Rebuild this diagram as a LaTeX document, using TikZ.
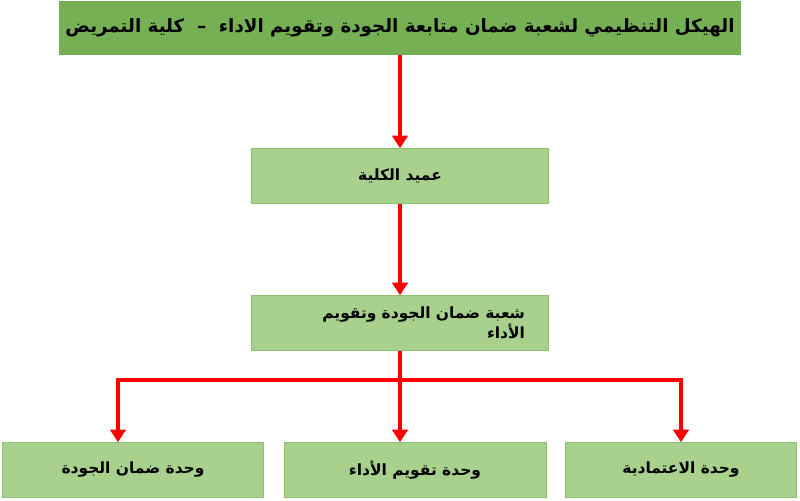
\documentclass[tikz,border=0pt]{standalone}
\usepackage{fontspec}
\newfontfamily\arabicfont[Script=Arabic]{DejaVu Sans}
\TeXXeTstate=1
\usetikzlibrary{arrows.meta}
\definecolor{topgreen}{HTML}{76B054}
\definecolor{boxgreen}{HTML}{A9D18E}
\definecolor{boxline}{HTML}{8FBF70}
\tikzset{
  unitbox/.style={draw=boxline,fill=boxgreen,minimum height=55*0.025cm,inner sep=4pt,font=\arabicfont\bfseries\fontsize{11}{14}\selectfont},
  flow/.style={draw=red,line width=2.6pt,-{Triangle[length=9pt,width=11pt]}}
}
\begin{document}
\begin{tikzpicture}[x=0.025cm,y=-0.025cm]
\useasboundingbox (0,0) rectangle (800,500);
\node[unitbox,fill=topgreen,draw=topgreen,minimum width=676*0.025cm,minimum height=53*0.025cm,font=\arabicfont\bfseries\fontsize{13}{16}\selectfont] (chart) at (400,28) {\beginR الهيكل التنظيمي لشعبة ضمان متابعة الجودة وتقويم الاداء \ – \ كلية التمريض\endR};
\node[unitbox,minimum width=297*0.025cm] (dean) at (400,176) {\beginR عميد الكلية\endR};
\node[unitbox,align=right,text width=250*0.025cm,inner xsep=23.5*0.025cm] (branch) at (400,323) {\beginR شعبة ضمان الجودة وتقويم\endR\\\beginR الأداء\endR};
\node[unitbox,minimum width=261*0.025cm] (quality) at (133,470) {\beginR وحدة ضمان الجودة\endR};
\node[unitbox,minimum width=262*0.025cm] (perform) at (415,470) {\beginR وحدة تقويم الأداء\endR};
\node[unitbox,minimum width=231*0.025cm] (accred) at (681,470) {\beginR وحدة الاعتمادية\endR};
\coordinate (split) at (400,380);
\draw[flow] (branch.south) -- (split) -| ([xshift=-15*0.025cm]quality.north);
\draw[flow] (chart) -- (dean);
\draw[flow] (dean) -- (branch);
\draw[flow] (split) -- (perform.north -| split);
\draw[flow] (split) -| (accred.north);
\end{tikzpicture}
\end{document}
